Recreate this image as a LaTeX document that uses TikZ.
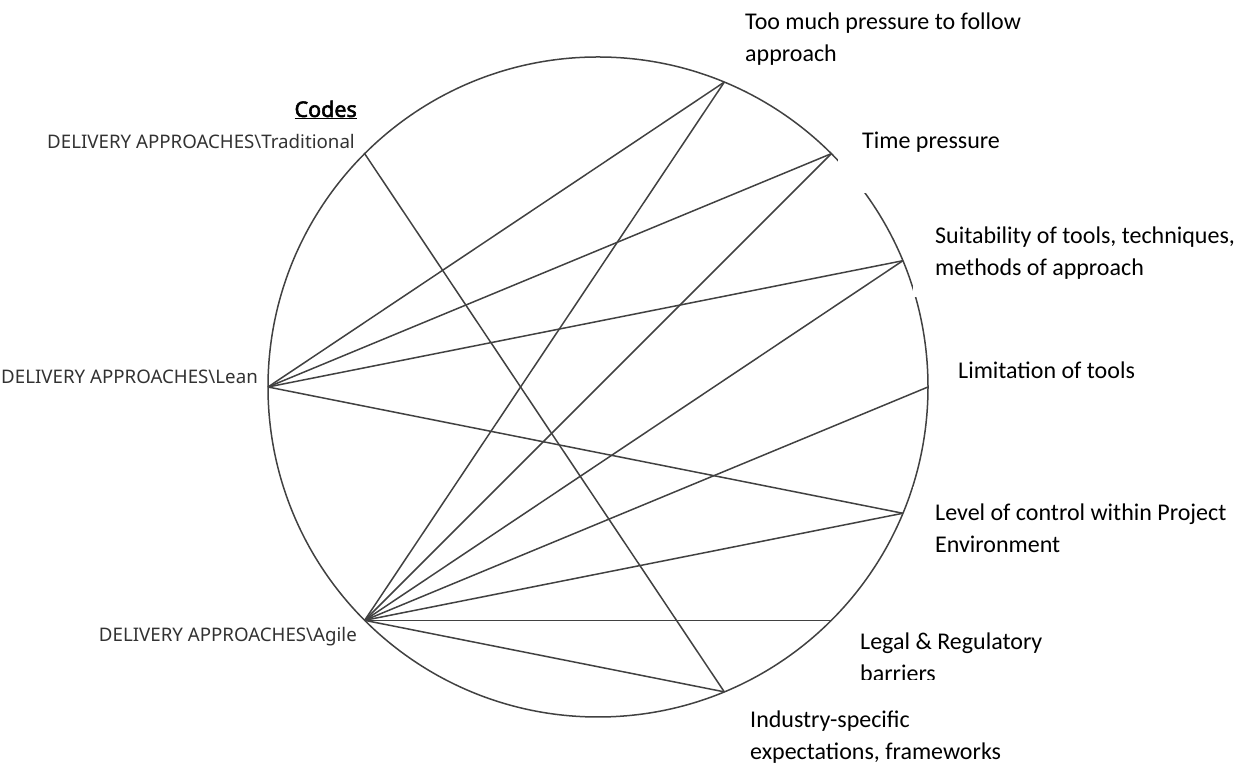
\documentclass[tikz,border=0pt]{standalone}
\usepackage{fontspec}
\newfontfamily\rfont{Carlito}
\newfontfamily\lfont{Noto Sans}
\newfontfamily\codefont{Noto Sans}[FakeBold=2.5]
\definecolor{edgegray}{RGB}{65,65,65}
\definecolor{codegray}{RGB}{50,50,50}
\begin{document}
\begin{tikzpicture}[x=1pt,y=1pt,
  chord/.style={draw=edgegray,line width=1.5pt},
  rlabel/.style={anchor=base west,inner sep=0pt,align=left,text=black,font={\rfont\fontsize{24}{32}\selectfont}},
  llabel/.style={anchor=base east,inner sep=0pt,text=codegray,font={\lfont\fontsize{18.7}{22}\selectfont}},
  mask/.style={fill=white}]
\useasboundingbox (0,0) rectangle (1248,767);
\coordinate (c) at (598,380);
\draw[chord] (c) circle[radius=330pt];
% points on the circle
\path (c) ++(135:330) coordinate (trad);
\path (c) ++(180:330) coordinate (lean);
\path (c) ++(225:330) coordinate (agile);
\path (c) ++(67.5:330) coordinate (press);
\path (c) ++(45:330) coordinate (time);
\path (c) ++(22.5:330) coordinate (suit);
\path (c) ++(0:330) coordinate (limit);
\path (c) ++(-22.5:330) coordinate (level);
\path (c) ++(-45:330) coordinate (legal);
\path (c) ++(-67.5:330) coordinate (indus);
% chords
\draw[chord] (trad) -- (indus);
\draw[chord] (lean) -- (press);
\draw[chord] (lean) -- (time);
\draw[chord] (lean) -- (suit);
\draw[chord] (lean) -- (level);
\draw[chord] (agile) -- (press);
\draw[chord] (agile) -- (time);
\draw[chord] (agile) -- (suit);
\draw[chord] (agile) -- (limit);
\draw[chord] (agile) -- (level);
\draw[chord] (agile) -- (legal);
\draw[chord] (agile) -- (indus);
% white label boxes covering the circle
\fill[mask] (838,667) rectangle (1010,574);
\fill[mask] (913,542) rectangle (1240,470);
\fill[mask] (913,280) rectangle (1240,207);
% labels
\node[anchor=base east,inner sep=0pt,text=black,font={\codefont\fontsize{21.5}{24}\selectfont}] (codes) at (357,650) {\underline{Codes}};
\node[llabel] (ltrad) at (355,618.5) {DELIVERY APPROACHES\textbackslash Traditional};
\node[llabel] (llean) at (258,383.5) {DELIVERY APPROACHES\textbackslash Lean};
\node[llabel] (lagile) at (357,125.5) {DELIVERY APPROACHES\textbackslash Agile};
\node[rlabel] (lpress) at (745,705) {Too much pressure to follow\\approach};
\node[rlabel] (ltime) at (862,618) {Time pressure};
\node[rlabel] (lsuit) at (935,491) {Suitability of tools, techniques,\\methods of approach};
\node[rlabel] (llimit) at (958,388) {Limitation of tools};
\node[rlabel] (llevel) at (935,214) {Level of control within Project\\Environment};
\node[rlabel] (llegal) at (860,85) {Legal \& Regulatory\\barriers};
\fill[mask] (850,86.8) rectangle (1100,60);
\node[rlabel] (lindus) at (750,7) {Industry-specific\\expectations, frameworks};
\end{tikzpicture}
\end{document}
